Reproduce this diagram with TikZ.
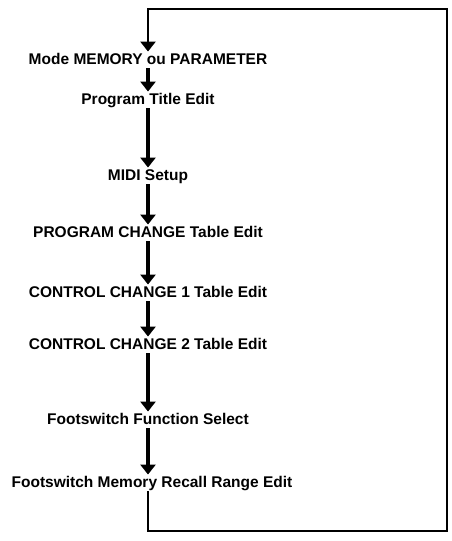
\documentclass[tikz,border=0pt]{standalone}
\usepackage{fontspec}
\setmainfont{Liberation Sans}
\usetikzlibrary{arrows.meta}
\tikzset{
  menu_item/.style = {align=center, inner sep=1pt, text centered,
    text height=11.5pt, text depth=3pt,
    font=\fontsize{15.5}{18}\selectfont\bfseries},% une page du menu
  flow_arrow/.style = {line width=3.6pt,
    -{Triangle[width=15pt,length=10pt]}},% fleche vers la page suivante
  loop_line/.style = {line width=2.8pt,
    -{Triangle[width=15pt,length=10pt]}}% retour au debut
}

\begin{document}
\begin{tikzpicture}[x=1pt, y=-1pt]
  \useasboundingbox (0,0) rectangle (452,541);
  \node [menu_item] (mode)     at (148,60)  {Mode MEMORY ou PARAMETER};
  \node [menu_item] (title)    at (148,100) {Program Title Edit};
  \node [menu_item] (midi)     at (148,176) {MIDI Setup};
  \node [menu_item] (pgmchg)   at (148,233) {PROGRAM CHANGE Table Edit};
  \node [menu_item] (ctlchg1)  at (148,293) {CONTROL CHANGE 1 Table Edit};
  \node [menu_item] (ctlchg2)  at (148,345) {CONTROL CHANGE 2 Table Edit};
  \node [menu_item] (fswfunc)  at (148,420) {Footswitch Function Select};
  \node [menu_item] (fswrange) at (152,483) {Footswitch Memory Recall Range Edit};
  \coordinate (br) at (447,531);
  \coordinate (tr) at (447,9);

  \draw [flow_arrow] (mode.south)    -- (title.north);
  \draw [flow_arrow] (title.south)   -- (midi.north);
  \draw [flow_arrow] (midi.south)    -- (pgmchg.north);
  \draw [flow_arrow] (pgmchg.south)  -- (ctlchg1.north);
  \draw [flow_arrow] (ctlchg1.south) -- (ctlchg2.north);
  \draw [flow_arrow] (ctlchg2.south) -- (fswfunc.north);
  \draw [flow_arrow] (fswfunc.south) -- (fswfunc.south |- fswrange.north);
  \draw [loop_line] (fswfunc.south |- fswrange.south) |- (br) -- (tr) -| (mode.north);
\end{tikzpicture}
\end{document}
